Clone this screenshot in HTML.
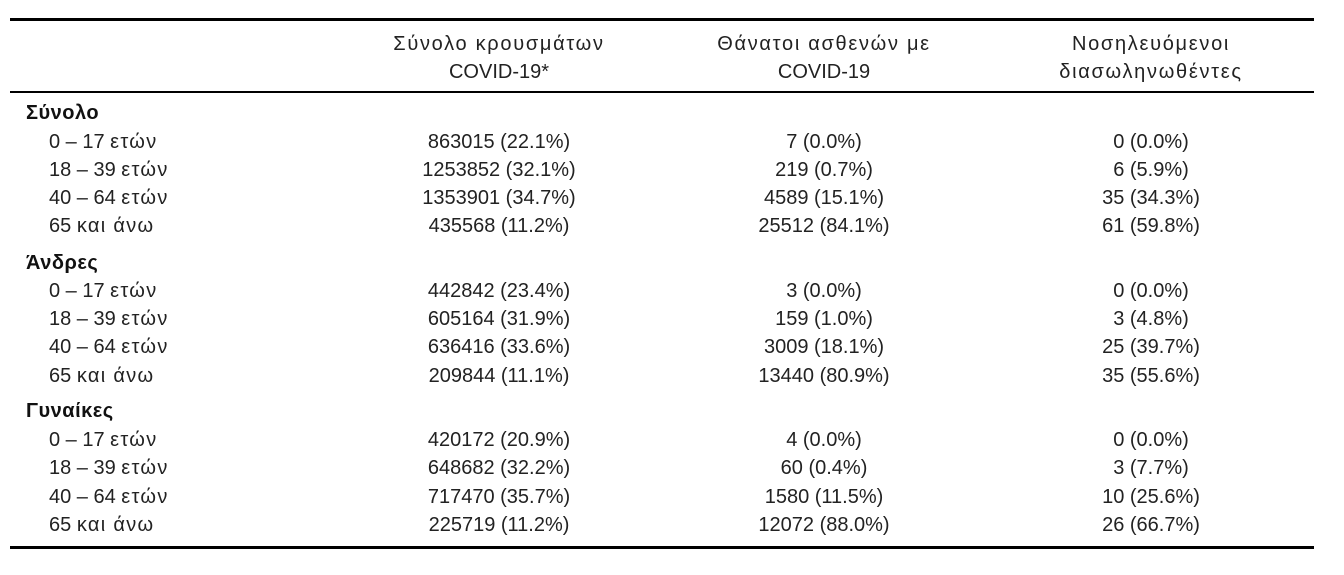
<!DOCTYPE html>
<html>
<head>
<meta charset="utf-8">
<style>
  html, body { margin:0; padding:0; background:#fff; }
  body { width:1344px; height:575px; position:relative; overflow:hidden;
         font-family:"Liberation Sans", "DejaVu Sans", sans-serif; font-size:20px; color:#222; }
  .r { position:absolute; left:10px; width:1304px; background:#000; }
  .t { position:absolute; height:28px; line-height:28px; white-space:nowrap; }
  .c1 { left:349px; width:300px; text-align:center; }
  .c2 { left:674px; width:300px; text-align:center; }
  .c3 { left:1001px; width:300px; text-align:center; }
  .g { left:26px; font-weight:bold; color:#111; letter-spacing:0.5px; }
  .l { left:49px; }
  .gk { letter-spacing:1.7px; }
  .gs { letter-spacing:1.3px; }
</style>
</head>
<body>
  <div class="r" style="top:18px;height:3px;"></div>
  <div class="r" style="top:91px;height:2px;"></div>
  <div class="r" style="top:546px;height:3px;"></div>

  <!-- header -->
  <div class="t c1 gk" style="top:30px;">Σύνολο κρουσμάτων</div>
  <div class="t c1" style="top:58px;">COVID-19*</div>
  <div class="t c2 gk" style="top:30px;">Θάνατοι ασθενών με</div>
  <div class="t c2" style="top:58px;">COVID-19</div>
  <div class="t c3 gk" style="top:30px;">Νοσηλευόμενοι</div>
  <div class="t c3 gk" style="top:58px;">διασωληνωθέντες</div>

  <!-- Σύνολο -->
  <div class="t g" style="top:99px;">Σύνολο</div>
  <div class="t l" style="top:128px;">0 – 17 <span class="gs">ετών</span></div>
  <div class="t c1" style="top:128px;">863015 (22.1%)</div>
  <div class="t c2" style="top:128px;">7 (0.0%)</div>
  <div class="t c3" style="top:128px;">0 (0.0%)</div>

  <div class="t l" style="top:156px;">18 – 39 <span class="gs">ετών</span></div>
  <div class="t c1" style="top:156px;">1253852 (32.1%)</div>
  <div class="t c2" style="top:156px;">219 (0.7%)</div>
  <div class="t c3" style="top:156px;">6 (5.9%)</div>

  <div class="t l" style="top:184px;">40 – 64 <span class="gs">ετών</span></div>
  <div class="t c1" style="top:184px;">1353901 (34.7%)</div>
  <div class="t c2" style="top:184px;">4589 (15.1%)</div>
  <div class="t c3" style="top:184px;">35 (34.3%)</div>

  <div class="t l" style="top:212px;">65 <span class="gs">και άνω</span></div>
  <div class="t c1" style="top:212px;">435568 (11.2%)</div>
  <div class="t c2" style="top:212px;">25512 (84.1%)</div>
  <div class="t c3" style="top:212px;">61 (59.8%)</div>

  <!-- Άνδρες -->
  <div class="t g" style="top:249px;">Άνδρες</div>
  <div class="t l" style="top:277px;">0 – 17 <span class="gs">ετών</span></div>
  <div class="t c1" style="top:277px;">442842 (23.4%)</div>
  <div class="t c2" style="top:277px;">3 (0.0%)</div>
  <div class="t c3" style="top:277px;">0 (0.0%)</div>

  <div class="t l" style="top:305px;">18 – 39 <span class="gs">ετών</span></div>
  <div class="t c1" style="top:305px;">605164 (31.9%)</div>
  <div class="t c2" style="top:305px;">159 (1.0%)</div>
  <div class="t c3" style="top:305px;">3 (4.8%)</div>

  <div class="t l" style="top:333px;">40 – 64 <span class="gs">ετών</span></div>
  <div class="t c1" style="top:333px;">636416 (33.6%)</div>
  <div class="t c2" style="top:333px;">3009 (18.1%)</div>
  <div class="t c3" style="top:333px;">25 (39.7%)</div>

  <div class="t l" style="top:362px;">65 <span class="gs">και άνω</span></div>
  <div class="t c1" style="top:362px;">209844 (11.1%)</div>
  <div class="t c2" style="top:362px;">13440 (80.9%)</div>
  <div class="t c3" style="top:362px;">35 (55.6%)</div>

  <!-- Γυναίκες -->
  <div class="t g" style="top:397px;">Γυναίκες</div>
  <div class="t l" style="top:426px;">0 – 17 <span class="gs">ετών</span></div>
  <div class="t c1" style="top:426px;">420172 (20.9%)</div>
  <div class="t c2" style="top:426px;">4 (0.0%)</div>
  <div class="t c3" style="top:426px;">0 (0.0%)</div>

  <div class="t l" style="top:454px;">18 – 39 <span class="gs">ετών</span></div>
  <div class="t c1" style="top:454px;">648682 (32.2%)</div>
  <div class="t c2" style="top:454px;">60 (0.4%)</div>
  <div class="t c3" style="top:454px;">3 (7.7%)</div>

  <div class="t l" style="top:483px;">40 – 64 <span class="gs">ετών</span></div>
  <div class="t c1" style="top:483px;">717470 (35.7%)</div>
  <div class="t c2" style="top:483px;">1580 (11.5%)</div>
  <div class="t c3" style="top:483px;">10 (25.6%)</div>

  <div class="t l" style="top:511px;">65 <span class="gs">και άνω</span></div>
  <div class="t c1" style="top:511px;">225719 (11.2%)</div>
  <div class="t c2" style="top:511px;">12072 (88.0%)</div>
  <div class="t c3" style="top:511px;">26 (66.7%)</div>
</body>
</html>
